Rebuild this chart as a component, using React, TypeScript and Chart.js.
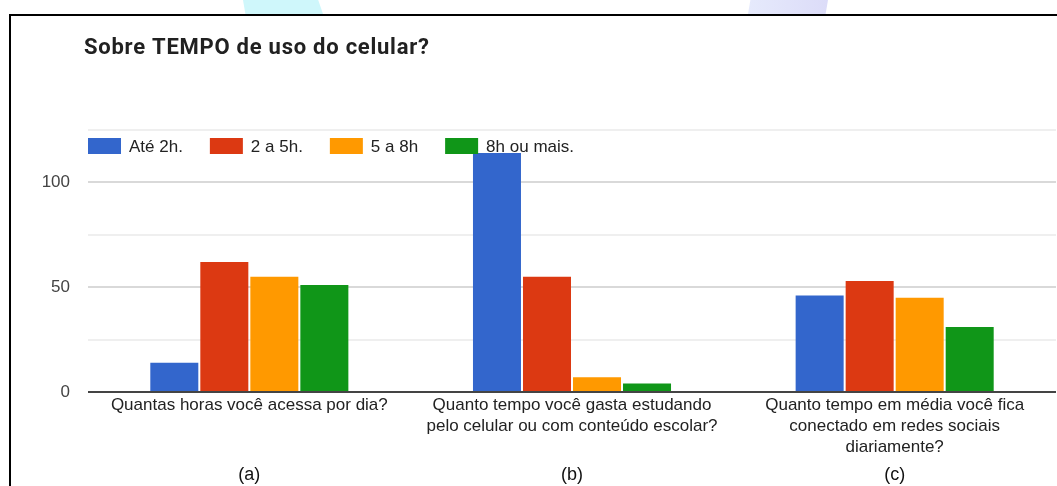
import React, { useEffect, useRef } from "react";
import { Chart, registerables } from "chart.js";

Chart.register(...registerables);

const chartTitle = "Sobre TEMPO de uso do celular?";
const categories = [
  ["Quantas horas você acessa por dia?"],
  ["Quanto tempo você gasta estudando", "pelo celular ou com conteúdo escolar?"],
  ["Quanto tempo em média você fica", "conectado em redes sociais", "diariamente?"],
];
const panelLetters = ["(a)", "(b)", "(c)"];
const seriesNames = ["Até 2h.", "2 a 5h.", "5 a 8h", "8h ou mais."];
const ate2h = [14, 114, 46];
const de2a5h = [62, 55, 53];
const de5a8h = [55, 7, 45];
const mais8h = [51, 4, 31];
const seriesColors = ["#3366cc", "#dc3912", "#ff9900", "#109618"];
const yTickLabels = [0, 50, 100];
const yMax = 125;
const yStep = 25;

const FONT = '"Liberation Sans", Arial, sans-serif';

const titlePlugin = {
  id: "customTitle",
  afterDraw(chart: any) {
    const ctx = chart.ctx;
    ctx.save();
    ctx.font = 'bold 22px Roboto, "Liberation Sans", sans-serif';
    try {
      (ctx as any).letterSpacing = "0.75px";
    } catch (e) {}
    ctx.fillStyle = "#212121";
    ctx.textAlign = "left";
    ctx.textBaseline = "alphabetic";
    ctx.fillText(chartTitle, 84, 54);
    ctx.restore();
  },
};

const legendPlugin = {
  id: "customLegend",
  afterDraw(chart: any) {
    const ctx = chart.ctx;
    ctx.save();
    ctx.font = "17px " + FONT;
    ctx.textAlign = "left";
    ctx.textBaseline = "alphabetic";
    let x = chart.chartArea.left;
    chart.data.datasets.forEach((ds: any) => {
      ctx.fillStyle = ds.backgroundColor;
      ctx.fillRect(x, 138, 33, 16);
      ctx.fillStyle = "#222";
      ctx.fillText(ds.label, x + 41, 152);
      x += 41 + ctx.measureText(ds.label).width + 27;
    });
    ctx.restore();
  },
};

const letterPlugin = {
  id: "panelLetters",
  afterDraw(chart: any) {
    const ctx = chart.ctx;
    const xs = chart.scales.x;
    ctx.save();
    ctx.font = "18px " + FONT;
    ctx.fillStyle = "#111";
    ctx.textAlign = "center";
    ctx.textBaseline = "middle";
    panelLetters.forEach((t, i) => {
      ctx.fillText(t, xs.getPixelForTick(i), 475);
    });
    ctx.restore();
  },
};

export default function App() {
  const ref = useRef<HTMLCanvasElement>(null);
  useEffect(() => {
    document.body.style.margin = "0";
    const series = [ate2h, de2a5h, de5a8h, mais8h];
    const chart = new Chart(ref.current as HTMLCanvasElement, {
      type: "bar",
      data: {
        labels: categories as any,
        datasets: series.map((d, i) => ({
          label: seriesNames[i],
          data: d,
          backgroundColor: seriesColors[i],
          borderWidth: 0,
          categoryPercentage: 0.62,
          barPercentage: 0.96,
        })),
      },
      options: {
        responsive: false,
        animation: false,
        layout: { padding: { top: 130, left: 0, right: 1, bottom: 0 } },
        plugins: {
          legend: { display: false },
          title: { display: false },
          tooltip: { enabled: false },
        },
        scales: {
          x: {
            grid: { display: false, drawTicks: false },
            border: { display: false },
            ticks: {
              autoSkip: false,
              maxRotation: 0,
              minRotation: 0,
              padding: 3,
              color: "#222",
              font: { family: FONT, size: 17, lineHeight: 1.235 },
            },
            afterFit(scale: any) {
              scale.height = 94;
            },
          },
          y: {
            min: 0,
            max: yMax,
            grid: {
              drawTicks: false,
              color: (c: any) =>
                c.tick.value === 0 ? "#444" : yTickLabels.includes(c.tick.value) ? "#d9d9d9" : "#efefef",
              lineWidth: 2,
            },
            border: { display: false },
            ticks: {
              stepSize: yStep,
              padding: 18,
              color: "#444",
              font: { family: FONT, size: 17 },
              callback: (v: any) => (yTickLabels.includes(v) ? String(v) : ""),
            },
            afterFit(scale: any) {
              scale.width = 88;
            },
          },
        },
      },
      plugins: [titlePlugin, legendPlugin, letterPlugin],
    });
    return () => chart.destroy();
  }, []);

  return (
    <div style={{ position: "relative", width: 1057, height: 486, background: "#fff", overflow: "hidden" }}>
      <div
        style={{
          position: "absolute",
          left: 243,
          top: 0,
          width: 80,
          height: 14,
          background: "#cff7fb",
          clipPath: "polygon(0 0, 94% 0, 100% 100%, 3% 100%)",
        }}
      />
      <div
        style={{
          position: "absolute",
          left: 748,
          top: 0,
          width: 80,
          height: 14,
          background: "linear-gradient(90deg, #e6eafc, #dcdcf8)",
          clipPath: "polygon(3% 0, 100% 0, 97% 100%, 0 100%)",
        }}
      />
      <canvas ref={ref} width={1057} height={486} style={{ position: "absolute", left: 0, top: 0 }} />
      <div
        style={{
          position: "absolute",
          left: 9,
          top: 14,
          width: 1100,
          height: 500,
          borderLeft: "2px solid #000",
          borderTop: "2px solid #000",
          pointerEvents: "none",
        }}
      />
    </div>
  );
}
